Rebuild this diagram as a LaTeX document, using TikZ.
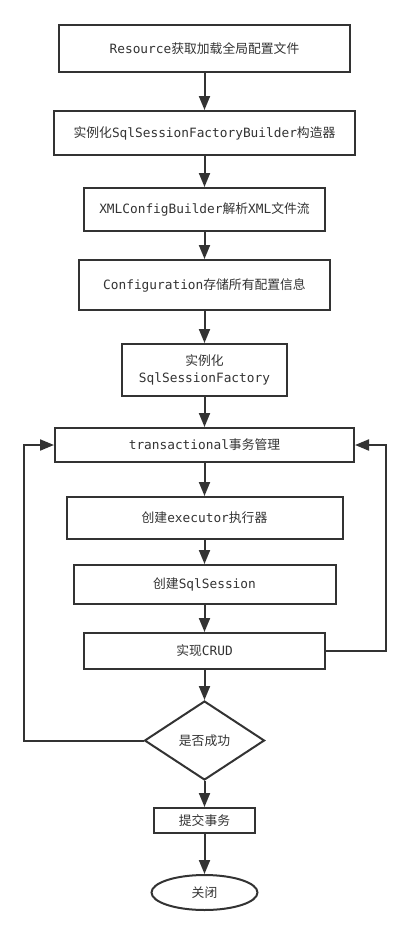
\documentclass[tikz,border=0pt]{standalone}
\usepackage{fontspec}
\setmainfont{Noto Sans CJK SC}
\setmonofont{DejaVu Sans Mono}
\usetikzlibrary{shapes.geometric,arrows.meta}
\definecolor{ink}{HTML}{333333}
\begin{document}
\begin{tikzpicture}[x=1pt,y=-1pt,
  box/.style={draw=ink, line width=2pt, text=ink, fill=white,
    font=\fontsize{12.8}{17}\selectfont, inner sep=0pt, align=center},
  arr/.style={draw=ink, line width=2pt, -{Triangle[length=14pt,width=11pt]}}]
\useasboundingbox (0,0) rectangle (409,935);
\node[box, minimum width=291pt, minimum height=47pt] (b1) at (204.5,48.5) {\texttt{Resource}获取加载全局配置文件};
\node[box, minimum width=301pt, minimum height=44pt] (b2) at (204.5,133) {实例化\texttt{SqlSessionFactoryBuilder}构造器};
\node[box, minimum width=241pt, minimum height=43pt] (b3) at (204.5,209.5) {\texttt{XMLConfigBuilder}解析\texttt{XML}文件流};
\node[box, minimum width=251pt, minimum height=50pt] (b4) at (204.5,285) {\texttt{Configuration}存储所有配置信息};
\node[box, minimum width=165pt, minimum height=52pt] (b5) at (204.5,370) {实例化\\\texttt{SqlSessionFactory}};
\node[box, minimum width=299pt, minimum height=34pt] (b6) at (204.5,445) {\texttt{transactional}事务管理};
\node[box, minimum width=276pt, minimum height=42pt] (b7) at (204.5,518) {创建\texttt{executor}执行器};
\node[box, minimum width=262pt, minimum height=39pt] (b8) at (204.5,584.5) {创建\texttt{SqlSession}};
\node[box, minimum width=241pt, minimum height=36pt] (b9) at (204.5,651) {实现\texttt{CRUD}};
\node[box, shape=diamond, minimum width=120pt, minimum height=79pt] (d) at (204.5,740.5) {是否成功};
\node[box, minimum width=101pt, minimum height=25pt] (b10) at (204.5,820.5) {提交事务};
\node[box, shape=ellipse, minimum width=106pt, minimum height=35pt] (e) at (204.5,892.5) {关闭};
\draw[arr] (b1) -- (b2);
\draw[arr] (b2) -- (b3);
\draw[arr] (b3) -- (b4);
\draw[arr] (b4) -- (b5);
\draw[arr] (b5) -- (b6);
\draw[arr] (b6) -- (b7);
\draw[arr] (b7) -- (b8);
\draw[arr] (b8) -- (b9);
\draw[arr] (b9) -- (d);
\draw[arr] (d) -- (b10);
\draw[arr] (b10) -- (e);
\draw[arr] (d.west) -- ++(-120,0) |- (b6.west);
\draw[arr] (b9.east) -- ++(60,0) |- (b6.east);
\end{tikzpicture}
\end{document}
